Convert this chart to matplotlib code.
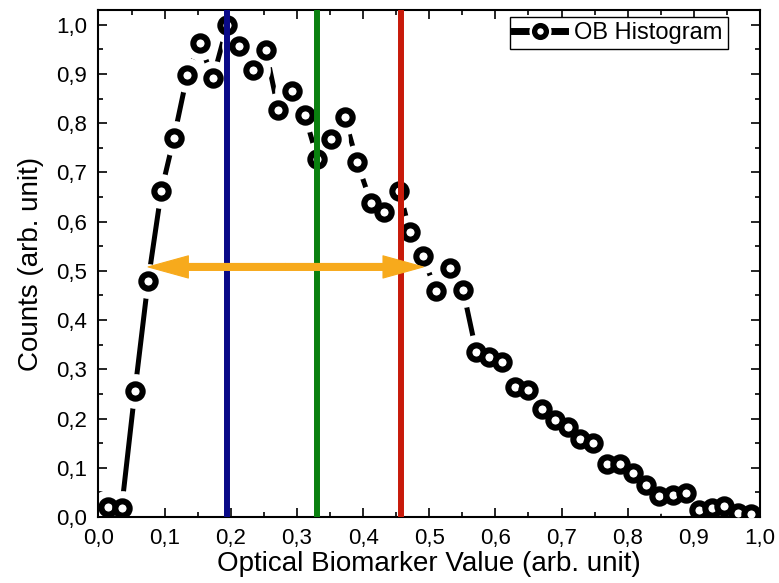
import matplotlib
matplotlib.use('Agg')
import matplotlib.pyplot as plt
from matplotlib.lines import Line2D
from matplotlib.legend_handler import HandlerTuple
from matplotlib.ticker import MultipleLocator, FuncFormatter

# histogram of the optical biomarker
ob_x = [0.014, 0.035, 0.055, 0.075, 0.095, 0.114, 0.134, 0.153, 0.173, 0.195,
        0.212, 0.233, 0.253, 0.272, 0.293, 0.312, 0.331, 0.352, 0.372, 0.391,
        0.412, 0.431, 0.455, 0.471, 0.490, 0.510, 0.531, 0.551, 0.571, 0.590,
        0.610, 0.630, 0.649, 0.670, 0.690, 0.710, 0.728, 0.748, 0.768, 0.788,
        0.808, 0.828, 0.848, 0.868, 0.888, 0.908, 0.927, 0.946, 0.967, 0.986]
ob_y = [0.020, 0.018, 0.255, 0.479, 0.662, 0.770, 0.897, 0.963, 0.891, 1.000,
        0.957, 0.909, 0.948, 0.826, 0.865, 0.816, 0.728, 0.767, 0.812, 0.721,
        0.638, 0.620, 0.662, 0.578, 0.531, 0.460, 0.506, 0.462, 0.336, 0.326,
        0.314, 0.265, 0.258, 0.219, 0.197, 0.182, 0.158, 0.150, 0.108, 0.108,
        0.089, 0.065, 0.043, 0.045, 0.049, 0.014, 0.018, 0.022, 0.009, 0.006]

# marker positions (vertical lines) and FWHM arrow
vlines_x = [0.195, 0.331, 0.457]
vlines_col = ['#0a0a88', '#0a800f', '#c81a0a']
fwhm_left = 0.075
fwhm_right = 0.491
fwhm_y = 0.508

plt.rcParams['font.family'] = ['Liberation Sans', 'DejaVu Sans']

fig = plt.figure(figsize=(7.79, 5.83), dpi=100)
ax = fig.add_axes([0.1264, 0.1132, 0.8492, 0.8697])

# Origin style: solid line that stops short of each symbol
ax.plot(ob_x, ob_y, color='black', lw=3.6, zorder=2.0)
ax.plot(ob_x, ob_y, ls='none', marker='o', ms=25, mfc='white', mec='none', zorder=2.2)
ax.plot(ob_x, ob_y, ls='none', marker='o', ms=10.3, mew=4.4, mfc='white', mec='black', zorder=3)

for xv, c in zip(vlines_x, vlines_col):
    ax.axvline(xv, color=c, lw=4.3, zorder=4)

# double arrow = two filled arrows from the middle outwards
mid = (fwhm_left + fwhm_right) / 2
for end in (fwhm_left, fwhm_right):
    ax.annotate('', xy=(end, fwhm_y), xytext=(mid, fwhm_y),
                arrowprops=dict(arrowstyle='simple,head_length=29,head_width=16,tail_width=5',
                                mutation_scale=1, fc='#f7aa1c', ec='#f7aa1c', lw=0.8,
                                shrinkA=0, shrinkB=0),
                zorder=5)

ax.set_xlim(0, 1.0)
ax.set_ylim(0, 1.03)
ax.xaxis.set_major_locator(MultipleLocator(0.1))
ax.xaxis.set_minor_locator(MultipleLocator(0.05))
ax.yaxis.set_major_locator(MultipleLocator(0.1))
ax.yaxis.set_minor_locator(MultipleLocator(0.05))
comma = FuncFormatter(lambda v, p: ('%.1f' % v).replace('.', ','))
ax.xaxis.set_major_formatter(comma)
ax.yaxis.set_major_formatter(comma)

ax.tick_params(which='both', direction='in', top=True, right=True, width=1.2)
ax.tick_params(which='major', length=6.5, labelsize=16, pad=8)
ax.tick_params(which='minor', length=3.5)
for s in ax.spines.values():
    s.set_linewidth(1.5)

ax.set_xlabel('Optical Biomarker Value (arb. unit)', fontsize=20, labelpad=1)
ax.set_ylabel('Counts (arb. unit)', fontsize=20, labelpad=9)

# legend proxy: line with gap around the symbol
h_line = Line2D([], [], color='black', lw=5)
h_gap = Line2D([], [], ls='none', marker='o', ms=16, mfc='white', mec='none')
h_sym = Line2D([], [], ls='none', marker='o', ms=8.5, mew=3.8, mfc='white', mec='black')
leg = ax.legend([(h_line, h_gap, h_sym)], ['OB Histogram'],
                handler_map={tuple: HandlerTuple(ndivide=1)},
                loc='upper right', bbox_to_anchor=(0.951, 0.986), borderaxespad=0,
                fontsize=17, fancybox=False, framealpha=1, edgecolor='black',
                handlelength=2.15, borderpad=0.2, handletextpad=0.4)
leg.get_frame().set_linewidth(1.0)

fig.savefig('out.png', dpi=100)
